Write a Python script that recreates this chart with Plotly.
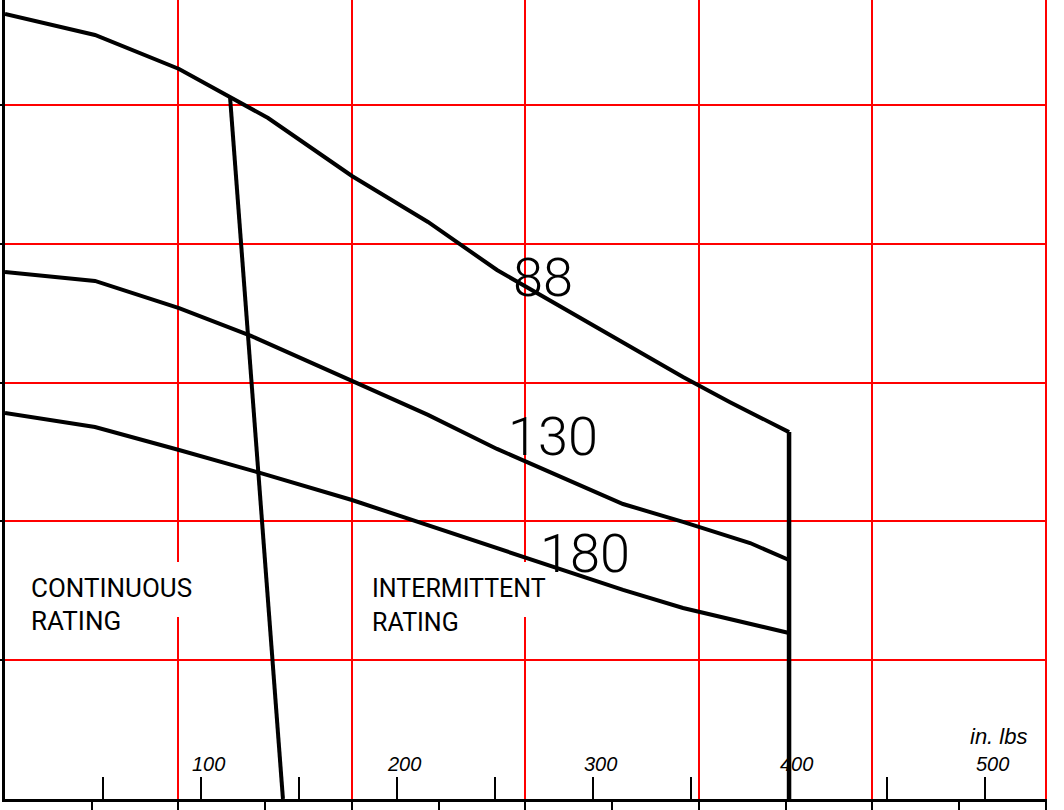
import plotly.graph_objects as go

# ---------------- data (x in in.lbs, y in grid units) ----------------
NM_TO_INLB = 8.8507
x_max = 531.6
y_max = 5.756

curve_88_x = [0, 45.9, 88.8, 114.8, 134.2, 177.0, 215.8, 251.0, 315.3, 345.9, 369.9, 400]
curve_88_y = [5.656, 5.504, 5.259, 5.058, 4.906, 4.488, 4.157, 3.811, 3.285, 3.040, 2.859, 2.643]

curve_130_x = [0, 45.9, 88.8, 125.5, 177.0, 215.8, 251.0, 315.3, 345.9, 380.1, 400]
curve_130_y = [3.797, 3.732, 3.537, 3.336, 3.012, 2.767, 2.522, 2.125, 1.996, 1.844, 1.722]

curve_180_x = [0, 45.9, 88.8, 130.1, 177.0, 251.0, 315.3, 345.9, 400]
curve_180_y = [2.781, 2.680, 2.514, 2.349, 2.154, 1.808, 1.506, 1.376, 1.196]

boundary_x = [114.8, 141.8]
boundary_y = [5.058, 0]

limit_x = [400, 400]
limit_y = [2.643, 0]

curve_names = ["88", "130", "180"]
curve_label_x = [274.5, 279.6, 295.9]
curve_label_y = [3.754, 2.608, 1.772]

tick_values = [100, 200, 300, 400, 500]
tick_labels = ["100", "200", "300", "400", "500"]
half_ticks = [50, 100, 150, 200, 250, 300, 350, 400, 450, 500]

grid_nm = [10, 20, 30, 40, 50, 60]
minor_nm = [5, 15, 25, 35, 45, 55]
y_grid = [1, 2, 3, 4, 5]

unit_label = "in. lbs"
rating_left = ["CONTINUOUS", "RATING"]
rating_right = ["INTERMITTENT", "RATING"]

# ---------------- figure ----------------
fig = go.Figure()
line_style = dict(color="black", width=4)
for xs, ys in [(curve_88_x, curve_88_y), (curve_130_x, curve_130_y),
               (curve_180_x, curve_180_y), (boundary_x, boundary_y)]:
    fig.add_trace(go.Scatter(x=xs, y=ys, mode="lines", line=line_style,
                             hoverinfo="skip", showlegend=False))
fig.add_trace(go.Scatter(x=limit_x, y=limit_y, mode="lines",
                         line=dict(color="black", width=4.5),
                         hoverinfo="skip", showlegend=False))
# dummy trace for overlay axis (upward ticks)
fig.add_trace(go.Scatter(x=[None], y=[None], xaxis="x2", yaxis="y",
                         hoverinfo="skip", showlegend=False))

grid_vals = [v * NM_TO_INLB for v in grid_nm]
minor_vals = [v * NM_TO_INLB for v in minor_nm]

fig.update_layout(
    width=1064, height=810,
    margin=dict(l=5, r=17, t=0, b=11, autoexpand=False),
    paper_bgcolor="white", plot_bgcolor="white",
    xaxis=dict(
        range=[0, x_max], tickmode="array", tickvals=grid_vals,
        showticklabels=False, showgrid=True, gridcolor="#ff0000", gridwidth=2,
        ticks="outside", ticklen=11, tickwidth=2, tickcolor="black",
        minor=dict(tickmode="array", tickvals=minor_vals, ticks="outside",
                   ticklen=11, tickwidth=2, tickcolor="black", showgrid=False),
        showline=True, linecolor="black", linewidth=3, zeroline=False,
        fixedrange=True,
    ),
    xaxis2=dict(
        overlaying="x", matches="x", anchor="y", side="bottom",
        tickmode="array", tickvals=half_ticks, showticklabels=False,
        ticks="inside", ticklen=22, tickwidth=2, tickcolor="black",
        showgrid=False, zeroline=False, showline=False,
    ),
    yaxis=dict(
        range=[0, y_max], tickmode="array", tickvals=y_grid,
        showticklabels=False, showgrid=True, gridcolor="#ff0000", gridwidth=2,
        ticks="outside", ticklen=5, tickwidth=2, tickcolor="black",
        showline=True, linecolor="black", linewidth=3, zeroline=False,
        fixedrange=True,
    ),
)

# white boxes behind the rating text (between grid and traces)
fig.add_shape(type="rect", x0=10.2, x1=99.5, y0=1.311, y1=1.707,
              fillcolor="white", line_width=0, layer="between")
fig.add_shape(type="rect", x0=183.7, x1=279.1, y0=1.311, y1=1.707,
              fillcolor="white", line_width=0, layer="between")

# curve labels
for name, lx, ly in zip(curve_names, curve_label_x, curve_label_y):
    fig.add_annotation(x=lx, y=ly, text=name, showarrow=False,
                       xanchor="center", yanchor="middle",
                       font=dict(family="Roboto", size=54, color="black", weight=300))

# tick labels (drawn above the axis)
for tv, tl in zip(tick_values, tick_labels):
    fig.add_annotation(x=tv, y=0, text=tl, showarrow=False, xanchor="center",
                       yanchor="middle", xshift=7, yshift=35,
                       font=dict(family="Liberation Sans", size=20, color="black",
                                 style="italic"))
fig.add_annotation(x=506.6, y=0.447, text=unit_label, showarrow=False,
                   xanchor="center", yanchor="middle",
                   font=dict(family="Liberation Sans", size=22, color="black",
                             style="italic"))

# rating text
rating_font = dict(family="Roboto", size=26, color="black")
for i, t in enumerate(rating_left):
    fig.add_annotation(x=12.2, y=[1.520, 1.282][i], text=t, showarrow=False,
                       xanchor="left", yanchor="middle", font=rating_font)
for i, t in enumerate(rating_right):
    fig.add_annotation(x=186.0, y=[1.513, 1.275][i], text=t, showarrow=False,
                       xanchor="left", yanchor="middle",
                       font=dict(family="Roboto", size=25, color="black"))

fig.write_html("out.html",
               config={"displayModeBar": False},
               post_script="document.body.style.margin='0';document.body.style.overflow='hidden';")
